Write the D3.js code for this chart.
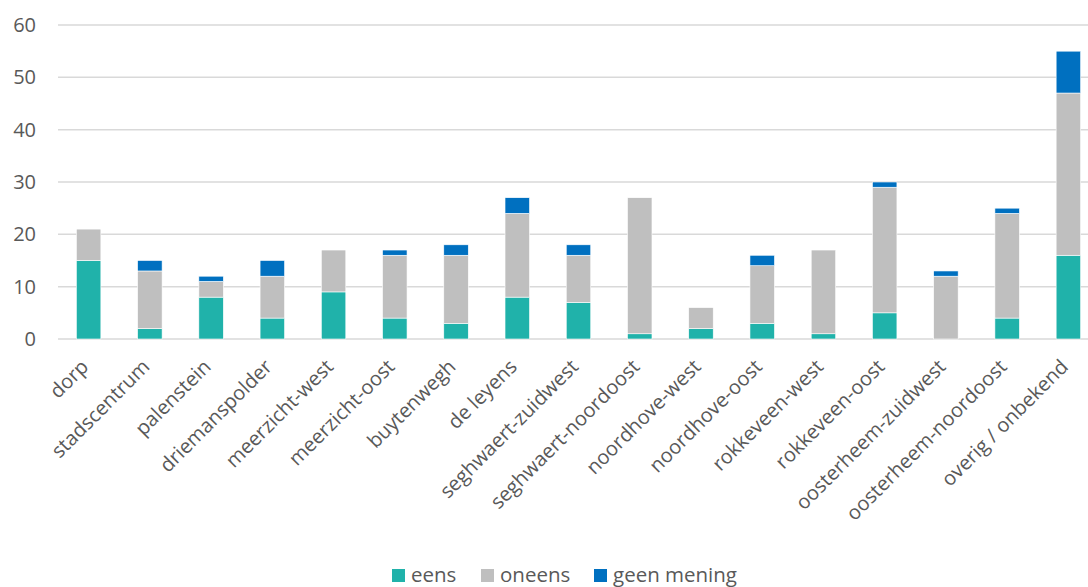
<!DOCTYPE html>
<html>
<head>
<meta charset="utf-8">
<script src="https://cdn.jsdelivr.net/npm/d3@7"></script>
<style>
  body { margin: 0; background: #fff; }
  svg { font-family: "Open Sans", sans-serif; }
</style>
</head>
<body>
<div id="chart"></div>
<script>
// wijken
let categories = ["dorp", "stadscentrum", "palenstein", "driemanspolder", "meerzicht-west",
    "meerzicht-oost", "buytenwegh", "de leyens", "seghwaert-zuidwest", "seghwaert-noordoost",
    "noordhove-west", "noordhove-oost", "rokkeveen-west", "rokkeveen-oost",
    "oosterheem-zuidwest", "oosterheem-noordoost", "overig / onbekend"];

let seriesNames = ["eens", "oneens", "geen mening"];
let eens =       [15, 2, 8, 4, 9, 4, 3, 8, 7, 1, 2, 3, 1, 5, 0, 4, 16];
let oneens =     [6, 11, 3, 8, 8, 12, 13, 16, 9, 26, 4, 11, 16, 24, 12, 20, 31];
let geenMening = [0, 2, 1, 3, 0, 1, 2, 3, 2, 0, 0, 2, 0, 1, 1, 1, 8];
let yTicks = [0, 10, 20, 30, 40, 50, 60];

let colors = ["#20B2AA", "#BFBFBF", "#0070C0"];

let w = 1088;
let h = 587;

let rows = categories.map(function (c, i) {
    return { cat: c, "eens": eens[i], "oneens": oneens[i], "geen mening": geenMening[i] };
});

let stacked = d3.stack().keys(seriesNames)(rows);

let x = d3.scaleBand()
    .domain(categories)
    .range([58, 1099])
    .paddingInner(0.6)
    .paddingOuter(0.3);

let y = d3.scaleLinear()
    .domain([0, 60])
    .range([339, 25]);

let svg = d3.select("#chart")
    .append("svg")
    .attr("width", w)
    .attr("height", h);

// gridlines
svg.append("g")
    .selectAll("line")
    .data(yTicks)
    .enter()
    .append("line")
    .attr("x1", 58)
    .attr("x2", w)
    .attr("y1", function (d) { return y(d); })
    .attr("y2", function (d) { return y(d); })
    .attr("stroke", "#D9D9D9")
    .attr("stroke-width", 1.5);

// y labels
let yAxis = svg.append("g")
    .attr("transform", "translate(36,0)")
    .call(d3.axisLeft(y).tickValues(yTicks).tickSize(0).tickPadding(0));
yAxis.select(".domain").remove();
yAxis.selectAll("text")
    .attr("font-family", "Open Sans, sans-serif")
    .attr("font-size", "20px")
    .attr("fill", "#595959");

// bars
svg.append("g")
    .selectAll("g")
    .data(stacked)
    .enter()
    .append("g")
    .attr("fill", function (d, i) { return colors[i]; })
    .selectAll("rect")
    .data(function (d) { return d; })
    .enter()
    .append("rect")
    .attr("x", function (d) { return x(d.data.cat); })
    .attr("y", function (d) { return y(d[1]); })
    .attr("height", function (d) { return Math.max(0, y(d[0]) - y(d[1])); })
    .attr("width", x.bandwidth())
    .attr("stroke", "#fff")
    .attr("stroke-width", 0.6);

// x labels, rotated
let xAxis = svg.append("g")
    .attr("transform", "translate(0,339)")
    .call(d3.axisBottom(x).tickSize(0).tickPadding(0));
xAxis.select(".domain").remove();
xAxis.selectAll("text")
    .attr("font-family", "Open Sans, sans-serif")
    .attr("font-size", "20px")
    .attr("fill", "#595959")
    .attr("text-anchor", "end")
    .attr("dy", 0)
    .attr("transform", "translate(1,29) rotate(-45)");

// legend
let legendX = [392, 481, 594];
let legend = svg.append("g")
    .selectAll("g")
    .data(seriesNames)
    .enter()
    .append("g")
    .attr("transform", function (d, i) { return "translate(" + legendX[i] + ",569)"; });

legend.append("rect")
    .attr("width", 13)
    .attr("height", 13)
    .attr("fill", function (d, i) { return colors[i]; });

legend.append("text")
    .attr("x", 19)
    .attr("y", 13)
    .attr("font-size", "20.5px")
    .attr("fill", "#595959")
    .text(function (d) { return d; });
</script>
</body>
</html>
